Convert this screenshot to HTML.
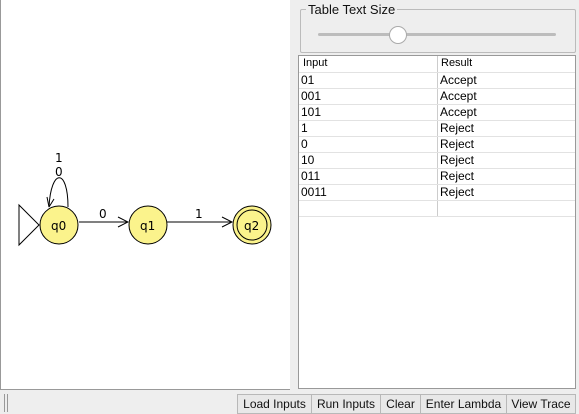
<!DOCTYPE html>
<html><head><style>
body{margin:0;width:579px;height:414px;background:#eeeeee;font-family:"Liberation Sans",sans-serif;position:relative;overflow:hidden}
.abs{position:absolute}
.row{position:absolute;left:299px;width:276px;height:16px;border-bottom:1px solid #e2e2e2;font-size:12px;color:#000}
.row span{position:absolute;top:1px}
.btn{position:absolute;top:394px;height:18px;border:1px solid #b8b8b8;background:#e8e8e8;font-size:12px;line-height:18px;text-align:center;color:#111}
</style></head><body>
<div class="abs" style="left:0;top:0;width:289px;height:389px;background:#fff;border-left:1px solid #999;border-bottom:1px solid #999"></div>
<svg class="abs" style="left:0;top:0" width="290" height="390">
<g font-family="DejaVu Sans,sans-serif" font-size="12" fill="#000">
<polygon points="19,205 39,225 19,245" fill="#fff" stroke="#000"/>
<path d="M49,207 C51,168 68,168 68,207" fill="none" stroke="#000"/>
<path d="M49,207 l-2,-10 M49,207 l5,-8" stroke="#000" fill="none"/>
<text x="55" y="162">1</text><text x="55" y="176">0</text>
<line x1="79" y1="222" x2="128" y2="222" stroke="#000"/>
<path d="M118,217 l10,5 l-10,5" fill="none" stroke="#000"/>
<text x="99" y="218">0</text>
<line x1="167" y1="222" x2="232" y2="222" stroke="#000"/>
<path d="M222,217 l10,5 l-10,5" fill="none" stroke="#000"/>
<text x="195" y="218">1</text>
<circle cx="59" cy="225" r="19" fill="#fbf38c" stroke="#000"/>
<circle cx="148" cy="225" r="19" fill="#fbf38c" stroke="#000"/>
<circle cx="252" cy="225" r="19" fill="#fbf38c" stroke="#000"/>
<circle cx="252" cy="225" r="15" fill="none" stroke="#000"/>
<text x="51" y="230">q0</text><text x="140" y="230">q1</text><text x="244" y="230">q2</text>
</g></svg>
<div class="abs" style="left:300px;top:9px;width:274px;height:42px;border:1px solid #bbb;border-radius:2px"></div>
<div class="abs" style="left:306px;top:2px;padding:0 2px;background:#eee;font-size:13px;color:#111">Table Text Size</div>
<div class="abs" style="left:318px;top:33px;width:238px;height:3px;background:#bcbcbc;border-radius:2px"></div>
<div class="abs" style="left:389px;top:26px;width:16px;height:16px;border-radius:50%;background:#fff;border:1px solid #aaa"></div>
<div class="abs" style="left:298px;top:55px;width:276px;height:332px;background:#fff;border:1px solid #999"></div>
<div class="abs" style="left:437px;top:56px;width:1px;height:160px;background:#ccc"></div>
<div class="row" style="top:56px;font-size:11px"><span style="left:4px">Input</span><span style="left:142px">Result</span></div>
<div class="row" style="top:72px"><span style="left:2px">01</span><span style="left:141px">Accept</span></div>
<div class="row" style="top:88px"><span style="left:2px">001</span><span style="left:141px">Accept</span></div>
<div class="row" style="top:104px"><span style="left:2px">101</span><span style="left:141px">Accept</span></div>
<div class="row" style="top:120px"><span style="left:2px">1</span><span style="left:141px">Reject</span></div>
<div class="row" style="top:136px"><span style="left:2px">0</span><span style="left:141px">Reject</span></div>
<div class="row" style="top:152px"><span style="left:2px">10</span><span style="left:141px">Reject</span></div>
<div class="row" style="top:168px"><span style="left:2px">011</span><span style="left:141px">Reject</span></div>
<div class="row" style="top:184px"><span style="left:2px">0011</span><span style="left:141px">Reject</span></div>
<div class="row" style="top:200px"></div>
<div class="abs" style="left:4px;top:394px;width:1px;height:18px;background:#999"></div>
<div class="abs" style="left:7px;top:394px;width:1px;height:18px;background:#999"></div>
<div class="btn" style="left:237px;width:73px">Load Inputs</div>
<div class="btn" style="left:311px;width:68px">Run Inputs</div>
<div class="btn" style="left:380px;width:39px">Clear</div>
<div class="btn" style="left:420px;width:85px">Enter Lambda</div>
<div class="btn" style="left:506px;width:68px">View Trace</div>
</body></html>
